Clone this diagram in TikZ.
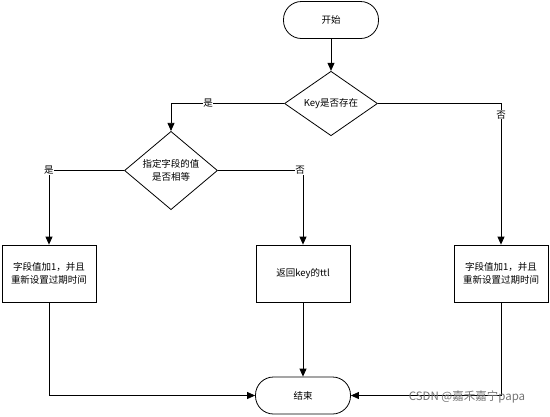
\documentclass[tikz,border=0pt]{standalone}
\usepackage{fontspec}
\newfontfamily\cjk{Noto Sans CJK SC}
\usetikzlibrary{shapes.geometric,arrows.meta}
\begin{document}
\begin{tikzpicture}[x=1pt,y=-1pt,
  every node/.style={font=\cjk\fontsize{9.5}{12.5}\selectfont},
  term/.style={draw, line width=0.8pt, rounded corners=18pt, minimum width=95pt, minimum height=37pt, inner sep=0pt},
  dec/.style={draw, line width=0.8pt, diamond, minimum width=93pt, minimum height=54pt, inner sep=0pt, align=center},
  box/.style={draw, line width=0.8pt, minimum width=94pt, minimum height=57pt, inner sep=0pt, align=center},
  arr/.style={draw, line width=0.8pt, -{Triangle[length=8pt,width=7pt]}},
  lbl/.style={fill=white, inner sep=0.5pt}]
\path[use as bounding box] (0,0) rectangle (550,416);
\node[term] (start) at (331,20) {开始};
\node[dec] (d1) at (331,103.5) {Key是否存在};
\node[dec] (d2) at (171,170.5) {指定字段的值\\是否相等};
\node[box] (b1) at (49,273.5) {字段值加1，并且\\重新设置过期时间};
\node[box] (b2) at (303,273.5) {返回key的ttl};
\node[box] (b3) at (501,273.5) {字段值加1，并且\\重新设置过期时间};
\node[term] (end) at (303,395.5) {结束};
\draw[arr] (start) -- (d1);
\draw[arr] (d1.west) -| node[lbl, pos=0.336] {是} (d2.north);
\draw[arr] (d1.east) -| node[lbl, pos=0.54] {否} (b3.north);
\draw[arr] (d2.west) -| node[lbl, pos=0.5] {是} (b1.north);
\draw[arr] (d2.east) -| node[lbl, pos=0.5, xshift=-3pt] {否} (b2.north);
\draw[arr] (b2) -- (end);
\draw[arr] (b1.south) |- (end.west);
\draw[arr] (b3.south) |- (end.east);
\node[font=\cjk\fontsize{11.5}{13}\selectfont, text=black!55, inner sep=0pt] (wm) at (467,397) {CSDN @嘉禾嘉宁papa};
\end{tikzpicture}
\end{document}
